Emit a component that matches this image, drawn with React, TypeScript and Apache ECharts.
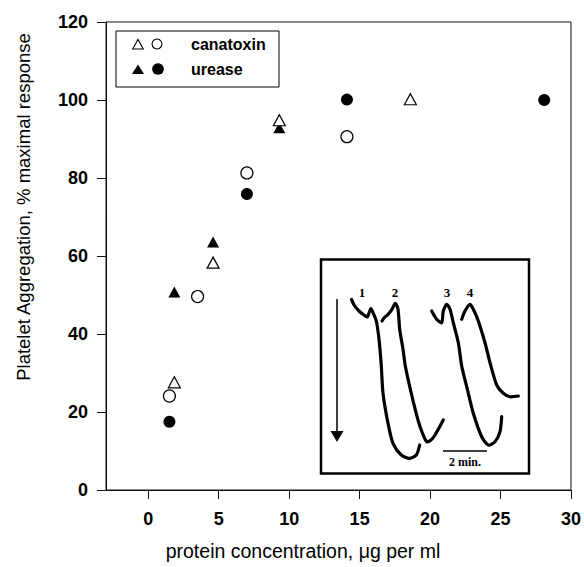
import React, { useEffect, useRef } from "react";
import * as echarts from "echarts";

// ---- data ----
const canatoxinTriangles: [number, number][] = [
  [1.85, 27.6],
  [4.6, 58.3],
  [9.3, 94.8],
  [18.6, 100.2],
];
const canatoxinCircles: [number, number][] = [
  [1.5, 24.1],
  [3.5, 49.6],
  [7.0, 81.3],
  [14.1, 90.6],
];
const ureaseTriangles: [number, number][] = [
  [1.85, 50.8],
  [4.6, 63.6],
  [9.3, 92.9],
];
const ureaseCircles: [number, number][] = [
  [1.5, 17.5],
  [7.0, 75.9],
  [14.1, 100.1],
  [28.1, 100.0],
];
const xTicks = [0, 5, 10, 15, 20, 25, 30];
const yTicks = [0, 20, 40, 60, 80, 100, 120];
const legendLabels = ["canatoxin", "urease"];
const xName = "protein concentration, \u03bcg per ml";
const yName = "Platelet Aggregation, % maximal response";
const traceLabels = ["1", "2", "3", "4"];
const scaleLabel = "2 min.";

// ---- inset drawing (aggregation traces, decorative picture) ----
const insetTraces: number[][][] = [
  [
    [351.5, 299.5], [354.7, 306], [359, 311], [363, 314.3], [367.3, 317], [370.7, 308.7],
    [373, 312.7], [376.3, 321], [379, 339.3], [381.3, 366], [383, 393.3], [388, 423.3],
    [393, 443.3], [401.3, 455], [409.7, 458.3], [416.3, 455], [419.7, 445],
  ],
  [
    [382, 321], [384, 318], [388, 314.3], [392, 309.3], [395.3, 303.3], [398, 309.3],
    [399.7, 329.3], [403, 349.3], [405.3, 366], [411.3, 393.3], [418, 420], [422, 432],
    [426.7, 441.7], [431, 440], [435, 435], [443.3, 420],
  ],
  [
    [431.7, 311], [436.7, 319.3], [441.7, 322.7], [443.3, 311], [446.7, 304.3], [450, 309.3],
    [453.3, 322.7], [458.3, 342.7], [461.7, 366], [466.7, 386.7], [473.3, 413.3],
    [481.7, 436.7], [488.3, 445], [495, 441.7], [500, 431.7], [501.7, 416.7],
  ],
  [
    [461.7, 319.3], [465, 311], [470, 304.3], [473.3, 309.3], [478.3, 321], [485, 342.7],
    [490, 362.7], [496.7, 385], [503.3, 393.3], [510, 396.7], [518.3, 396],
  ],
];
const traceLabelPos = [
  [362, 292],
  [395, 292],
  [447, 292],
  [470, 292],
];

const SANS = "'Liberation Sans', Arial, Helvetica, sans-serif";
const SERIF = "'Liberation Serif', 'Times New Roman', serif";

export default function App() {
  const ref = useRef<HTMLDivElement>(null);

  useEffect(() => {
    if (!ref.current) return;
    const chart = echarts.init(ref.current, undefined, { renderer: "svg" });

    const openStyle = { color: "#fff", borderColor: "#000", borderWidth: 1.2, opacity: 1 };
    const filledStyle = { color: "#000", borderColor: "#000", borderWidth: 0, opacity: 1 };

    const graphic: any[] = [];
    // Legend box
    graphic.push({
      type: "rect",
      shape: { x: 116, y: 31, width: 163, height: 56 },
      style: { fill: "#fff", stroke: "#000", lineWidth: 1 },
      z: 100,
    });
    graphic.push({
      type: "polygon",
      shape: { points: [[132.7, 49], [138, 39.5], [143.3, 49]] },
      style: { fill: "#fff", stroke: "#000", lineWidth: 1.1 },
      z: 101,
    });
    graphic.push({
      type: "circle",
      shape: { cx: 157, cy: 44, r: 5 },
      style: { fill: "#fff", stroke: "#000", lineWidth: 1.1 },
      z: 101,
    });
    graphic.push({
      type: "polygon",
      shape: { points: [[132, 74], [138, 64.5], [144, 74]] },
      style: { fill: "#000" },
      z: 101,
    });
    graphic.push({
      type: "circle",
      shape: { cx: 158, cy: 69, r: 5.8 },
      style: { fill: "#000" },
      z: 101,
    });
    legendLabels.forEach((t, i) => {
      graphic.push({
        type: "text",
        x: 191,
        y: 44 + i * 25,
        style: {
          text: t,
          font: `bold 16px ${SANS}`,
          fill: "#000",
          textAlign: "left",
          textVerticalAlign: "middle",
        },
        z: 101,
      });
    });

    // Axis names
    graphic.push({
      type: "text",
      x: 303,
      y: 551,
      style: {
        text: xName,
        font: `19.5px ${SANS}`,
        fill: "#000",
        textAlign: "center",
        textVerticalAlign: "middle",
      },
    });
    graphic.push({
      type: "text",
      x: 23,
      y: 207,
      rotation: Math.PI / 2,
      style: {
        text: yName,
        font: `18.5px ${SANS}`,
        fill: "#000",
        textAlign: "center",
        textVerticalAlign: "middle",
      },
    });

    // Inset
    graphic.push({
      type: "rect",
      shape: { x: 321, y: 259.5, width: 208, height: 214 },
      style: { fill: "#fff", stroke: "#000", lineWidth: 2.5 },
      z: 100,
    });
    insetTraces.forEach((pts) => {
      graphic.push({
        type: "polyline",
        shape: { points: pts, smooth: 0.25 },
        style: { stroke: "#000", lineWidth: 3.2, fill: null, lineCap: "round", lineJoin: "round" },
        z: 101,
      });
    });
    traceLabels.forEach((t, i) => {
      graphic.push({
        type: "text",
        x: traceLabelPos[i][0],
        y: traceLabelPos[i][1],
        style: {
          text: t,
          font: `bold 13px ${SERIF}`,
          fill: "#000",
          textAlign: "center",
          textVerticalAlign: "middle",
        },
        z: 101,
      });
    });
    graphic.push({
      type: "line",
      shape: { x1: 337, y1: 299, x2: 337, y2: 432 },
      style: { stroke: "#000", lineWidth: 1.5 },
      z: 101,
    });
    graphic.push({
      type: "polygon",
      shape: { points: [[330.5, 431], [343.5, 431], [337, 442]] },
      style: { fill: "#000" },
      z: 101,
    });
    graphic.push({
      type: "line",
      shape: { x1: 443, y1: 451, x2: 487, y2: 451 },
      style: { stroke: "#000", lineWidth: 1.5 },
      z: 101,
    });
    graphic.push({
      type: "text",
      x: 465,
      y: 462,
      style: {
        text: scaleLabel,
        font: `bold 12px ${SERIF}`,
        fill: "#000",
        textAlign: "center",
        textVerticalAlign: "middle",
      },
      z: 101,
    });

    const axisLineStyle = { color: "#111", width: 1 };

    chart.setOption({
      animation: false,
      backgroundColor: "#fff",
      grid: {
        left: 106,
        right: 10,
        top: 22,
        bottom: 77,
        show: true,
        borderColor: "#111",
        borderWidth: 1,
        backgroundColor: "transparent",
      },
      xAxis: {
        type: "value",
        min: -3,
        max: 30,
        axisLine: { show: true, onZero: false, lineStyle: axisLineStyle },
        axisTick: {
          show: true,
          inside: false,
          length: 9,
          customValues: xTicks,
          lineStyle: axisLineStyle,
        },
        axisLabel: {
          show: true,
          customValues: xTicks,
          margin: 20,
          color: "#000",
          fontFamily: SANS,
          fontSize: 18,
          fontWeight: "bold",
        },
        splitLine: { show: false },
      },
      yAxis: {
        type: "value",
        min: 0,
        max: 120,
        interval: 20,
        axisLine: { show: true, onZero: false, lineStyle: axisLineStyle },
        axisTick: { show: true, inside: false, length: 9, lineStyle: axisLineStyle },
        axisLabel: {
          show: true,
          margin: 18,
          color: "#000",
          fontFamily: SANS,
          fontSize: 18,
          fontWeight: "bold",
          formatter: (v: number) => (yTicks.includes(v) ? String(v) : ""),
        },
        splitLine: { show: false },
      },
      series: [
        {
          name: "urease triangles",
          type: "scatter",
          symbol: "triangle",
          symbolSize: [12, 11],
          data: ureaseTriangles,
          itemStyle: filledStyle,
          z: 2,
        },
        {
          name: "urease circles",
          type: "scatter",
          symbol: "circle",
          symbolSize: 12,
          data: ureaseCircles,
          itemStyle: filledStyle,
          z: 2,
        },
        {
          name: "canatoxin triangles",
          type: "scatter",
          symbol: "triangle",
          symbolSize: [12, 11],
          data: canatoxinTriangles,
          itemStyle: openStyle,
          z: 3,
        },
        {
          name: "canatoxin circles",
          type: "scatter",
          symbol: "circle",
          symbolSize: 12,
          data: canatoxinCircles,
          itemStyle: openStyle,
          z: 3,
        },
      ],
      graphic,
    });

    return () => {
      chart.dispose();
    };
  }, []);

  return (
    <div
      ref={ref}
      style={{ position: "fixed", left: 0, top: 0, width: 584, height: 567, background: "#fff" }}
    />
  );
}
